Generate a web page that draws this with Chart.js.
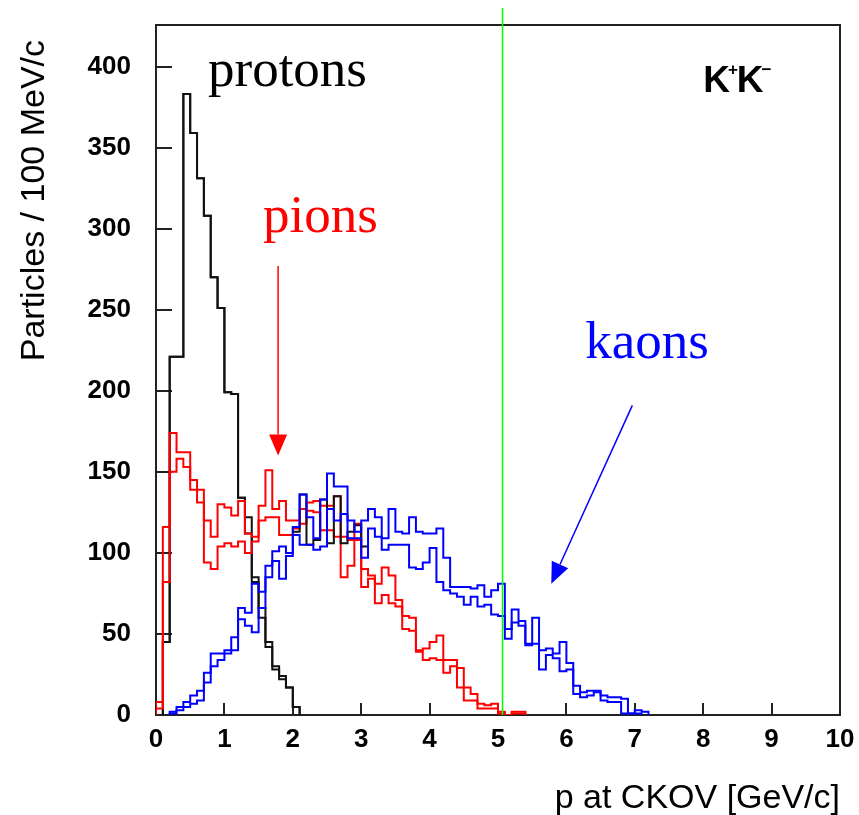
<!DOCTYPE html>
<html>
<head>
<meta charset="utf-8">
<script src="https://cdn.jsdelivr.net/npm/chart.js@4.4.1/dist/chart.umd.min.js"></script>
<style>
  html, body { margin: 0; padding: 0; background: #ffffff; }
  #wrap { width: 859px; height: 815px; }
</style>
</head>
<body>
<div id="wrap"><canvas id="c" width="859" height="815"></canvas></div>
<script>
// ---- data (bin width 0.1 GeV/c, bins start at 0.0) ----
const binWidth = 0.1;
const xTicks = [0, 1, 2, 3, 4, 5, 6, 7, 8, 9, 10];
const yTicks = [0, 50, 100, 150, 200, 250, 300, 350, 400];

const protonsA = [0, 45, 221, 221, 383, 359, 331, 308, 270, 251, 199, 198, 134, 122, 82, 66, 42, 28, 24, 17, 5];
const protonsB = [0, 45, 221, 221, 383, 359, 331, 308, 270, 251, 199, 198, 134, 112, 85, 60, 45, 30, 22, 17, 5];
const blackExtra = [null, null, null, null, null, null, null, null, null, null,
                    null, null, null, null, null, null, null, null, null, null,
                    113, 136, 105, 108, 133, 106, 135, 106, 113, 117, 104];

const pionsA = [8, 116, 174, 162, 162, 145, 139, 120, 110, 130, 128, 123, 132, 112, 110, 129, 151, 127, 132, 120,
                120, 127, 131, 132, 129, 129, 135, 110, 108, 118, 90, 86, 81, 91, 86, 71, 61, 60, 40, 41,
                45, 49, 34, 34, 29, 17, 13, 7, 6, 7, 2, 0, 2, 2];
const pionsB = [4, 82, 150, 158, 153, 139, 131, 94, 90, 104, 106, 104, 107, 100, 107, 120, 122, 122, 111, 111,
                115, 118, 126, 125, 114, 114, 110, 85, 92, 108, 79, 84, 69, 74, 69, 67, 53, 52, 39, 34,
                35, 34, 26, 30, 17, 9, 9, 4, 4, 4, 1, 0, 1, 1];

const kaonsA = [0, 0, 2, 3, 8, 12, 15, 26, 38, 38, 40, 48, 66, 63, 81, 76, 92, 101, 104, 100,
                116, 136, 122, 109, 133, 149, 141, 141, 120, 113, 120, 127, 122, 109, 127, 113, 112, 122, 113, 112,
                112, 115, 97, 79, 79, 79, 78, 80, 73, 77, 81, 53, 65, 58, 44, 60, 40, 41, 38, 45,
                32, 18, 14, 15, 15, 12, 11, 11, 10, 1, 3, 2];
const kaonsB = [0, 0, 1, 5, 5, 7, 9, 20, 30, 34, 38, 40, 59, 55, 51, 66, 85, 95, 84, 98,
                111, 105, 105, 102, 104, 127, 120, 124, 109, 109, 97, 115, 110, 102, 105, 105, 105, 91, 90, 94,
                103, 82, 77, 75, 73, 68, 73, 67, 68, 62, 61, 47, 57, 55, 43, 44, 28, 37, 35, 27,
                28, 13, 11, 12, 14, 9, 8, 8, 1, 1, 1, 0];

const cutMomentum = 5.06;

// annotations in data units
const labels = [
  { text: 'protons', x: 0.76, y: 388, color: '#000000' },
  { text: 'pions',   x: 1.565, y: 298, color: '#ff0000' },
  { text: 'kaons',   x: 6.277, y: 220, color: '#0000ff' }
];
const arrows = [
  { from: [1.785, 277], to: [1.785, 160], color: '#ff0000' },
  { from: [6.964, 191], to: [5.779, 81], color: '#0000ff' }
];
const reactionLabel = { x: 8.0, y: 384 };

// ---- build step points ----
function stepPoints(vals, closed) {
  const pts = [];
  let first = vals.findIndex(v => v !== null && v > 0);
  let last = vals.length - 1;
  while (last > first && (vals[last] === null || vals[last] === 0)) last--;
  if (closed) pts.push({ x: first * binWidth, y: 0 });
  for (let i = first; i <= last; i++) pts.push({ x: i * binWidth, y: vals[i] });
  pts.push({ x: (last + 1) * binWidth, y: closed ? 0 : vals[last] });
  return pts;
}

function ds(vals, color, closed, order) {
  return {
    data: stepPoints(vals, closed),
    borderColor: color,
    borderWidth: 2,
    stepped: 'before',
    pointRadius: 0,
    fill: false,
    tension: 0,
    order: order
  };
}

const tickFont = { family: '"Liberation Sans", Arial, sans-serif', size: 26, weight: 'bold' };

const decor = {
  id: 'decor',
  beforeDatasetsDraw(chart) {
    const { ctx, chartArea: a, scales: { x, y } } = chart;
    ctx.save();
    ctx.strokeStyle = '#222';
    ctx.lineWidth = 2;
    ctx.strokeRect(a.left, a.top, a.right - a.left, a.bottom - a.top);
    ctx.beginPath();
    xTicks.forEach(v => {
      const px = Math.round(x.getPixelForValue(v));
      ctx.moveTo(px, a.bottom); ctx.lineTo(px, a.bottom - 12);
    });
    yTicks.forEach(v => {
      const py = Math.round(y.getPixelForValue(v));
      ctx.moveTo(a.left, py); ctx.lineTo(a.left + 16, py);
    });
    ctx.stroke();
    ctx.restore();
  },
  afterDatasetsDraw(chart) {
    const { ctx, chartArea: a, scales: { x, y } } = chart;
    ctx.save();
    // cut line
    const gx = Math.round(x.getPixelForValue(cutMomentum)) + 0.5;
    ctx.strokeStyle = '#00ff00';
    ctx.lineWidth = 1.5;
    ctx.beginPath(); ctx.moveTo(gx, a.top - 17); ctx.lineTo(gx, a.bottom); ctx.stroke();

    // labels
    ctx.font = '53px "Liberation Serif", "Times New Roman", serif';
    ctx.textBaseline = 'alphabetic';
    ctx.textAlign = 'left';
    labels.forEach(l => {
      ctx.fillStyle = l.color;
      ctx.fillText(l.text, x.getPixelForValue(l.x), y.getPixelForValue(l.y));
    });

    // arrows
    arrows.forEach(ar => {
      const x0 = x.getPixelForValue(ar.from[0]), y0 = y.getPixelForValue(ar.from[1]);
      const x1 = x.getPixelForValue(ar.to[0]), y1 = y.getPixelForValue(ar.to[1]);
      const dx = x1 - x0, dy = y1 - y0, len = Math.hypot(dx, dy);
      const ux = dx / len, uy = dy / len;
      const hl = 21, hw = 9;
      const bx = x1 - ux * hl, by = y1 - uy * hl;
      ctx.strokeStyle = ar.color; ctx.fillStyle = ar.color; ctx.lineWidth = 1.5;
      ctx.beginPath(); ctx.moveTo(x0, y0); ctx.lineTo(bx, by); ctx.stroke();
      ctx.beginPath();
      ctx.moveTo(x1, y1);
      ctx.lineTo(bx - uy * hw, by + ux * hw);
      ctx.lineTo(bx + uy * hw, by - ux * hw);
      ctx.closePath(); ctx.fill();
    });

    // reaction label K+K-
    let rx = x.getPixelForValue(reactionLabel.x), ry = y.getPixelForValue(reactionLabel.y);
    ctx.fillStyle = '#000';
    const big = 'bold 37px "Liberation Sans", Arial, sans-serif';
    const small = 'bold 17px "Liberation Sans", Arial, sans-serif';
    ctx.font = big; ctx.fillText('K', rx, ry); rx += ctx.measureText('K').width - 2;
    ctx.font = small; ctx.fillText('+', rx, ry - 17); rx += ctx.measureText('+').width - 1;
    ctx.font = big; ctx.fillText('K', rx, ry); rx += ctx.measureText('K').width - 2;
    ctx.font = small; ctx.fillText('\u2212', rx, ry - 17);

    // axis titles
    ctx.font = '34px "Liberation Sans", Arial, sans-serif';
    ctx.fillStyle = '#000';
    ctx.textAlign = 'right';
    ctx.fillText('p at CKOV [GeV/c]', a.right, a.bottom + 93);
    ctx.translate(a.left - 112, a.top + 15);
    ctx.rotate(-Math.PI / 2);
    ctx.textAlign = 'right';
    ctx.fillText('Particles / 100 MeV/c', 0, 0);
    ctx.restore();
  }
};

new Chart(document.getElementById('c'), {
  type: 'line',
  data: {
    datasets: [
      ds(kaonsA, '#0000ff', true, 1),
      ds(kaonsB, '#0000ff', true, 2),
      ds(blackExtra, '#111111', false, 3),
      ds(pionsA, '#ff0000', true, 4),
      ds(pionsB, '#ff0000', true, 5),
      ds(protonsA, '#111111', true, 6),
      ds(protonsB, '#111111', true, 7)
    ]
  },
  options: {
    responsive: false,
    animation: false,
    devicePixelRatio: 1,
    layout: { padding: { top: 25, right: 19, left: 0, bottom: 0 }, autoPadding: false },
    plugins: { legend: { display: false }, tooltip: { enabled: false } },
    scales: {
      x: {
        type: 'linear', min: 0, max: 10,
        afterFit: s => { s.height = 100; s.paddingLeft = 0; s.paddingRight = 0; },
        afterBuildTicks: s => { s.ticks = xTicks.map(v => ({ value: v })); },
        grid: { display: false, drawTicks: false },
        border: { display: false },
        ticks: { font: tickFont, color: '#000', padding: 9, maxRotation: 0, autoSkip: false }
      },
      y: {
        type: 'linear', min: 0, max: 425.6,
        afterFit: s => { s.width = 156; s.paddingTop = 0; s.paddingBottom = 0; },
        afterBuildTicks: s => { s.ticks = yTicks.map(v => ({ value: v })); },
        grid: { display: false, drawTicks: false },
        border: { display: false },
        ticks: { font: tickFont, color: '#000', padding: 25, autoSkip: false }
      }
    }
  },
  plugins: [decor]
});
</script>
</body>
</html>
